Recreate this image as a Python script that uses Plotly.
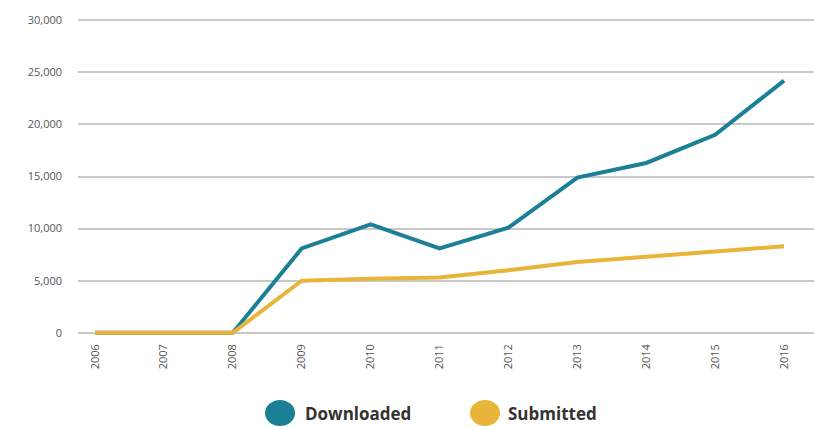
import plotly.graph_objects as go

years = [2006, 2007, 2008, 2009, 2010, 2011, 2012, 2013, 2014, 2015, 2016]
downloaded = [0, 0, 0, 8100, 10400, 8100, 10100, 14900, 16300, 19000, 24200]
submitted = [0, 0, 0, 5000, 5200, 5300, 6000, 6800, 7300, 7800, 8300]
y_ticks = [0, 5000, 10000, 15000, 20000, 25000, 30000]
y_labels = ["0", "5,000", "10,000", "15,000", "20,000", "25,000", "30,000"]
series_names = ["Downloaded", "Submitted"]
teal = "#1b7f96"
gold = "#e8b43a"

fig = go.Figure()
fig.add_trace(go.Scatter(x=years, y=downloaded, mode="lines", name=series_names[0],
                         line=dict(color=teal, width=4), showlegend=False))
fig.add_trace(go.Scatter(x=years, y=submitted, mode="lines", name=series_names[1],
                         line=dict(color=gold, width=4), showlegend=False))

# manual legend (large circles)
leg_y = -0.236
for xp, tx, col, name in [(0.2745, 0.3084, teal, series_names[0]),
                          (0.553, 0.5842, gold, series_names[1])]:
    fig.add_shape(type="circle", xref="paper", yref="paper", xsizemode="pixel", ysizemode="pixel",
                  xanchor=xp, yanchor=leg_y, x0=-15, x1=15, y0=-13, y1=13,
                  fillcolor=col, line=dict(width=0))
    fig.add_annotation(xref="paper", yref="paper", x=tx, y=leg_y, text="<b>%s</b>" % name,
                       showarrow=False, xanchor="left", yanchor="middle", xshift=-2, yshift=-1,
                       font=dict(family="Open Sans", size=17, color="#333333"))

fig.update_layout(
    width=814, height=427,
    margin=dict(l=78, r=0, t=15, b=90),
    paper_bgcolor="white", plot_bgcolor="white",
    font=dict(family="Open Sans", size=11, color="#555555"),
    xaxis=dict(range=[2005.753, 2016.435], tickmode="array", tickvals=years,
               ticktext=[str(y) for y in years], tickangle=-90, showgrid=False,
               zeroline=False, showline=False, ticks="", ticklabelstandoff=4,
               tickfont=dict(family="Open Sans", size=11, color="#555555")),
    yaxis=dict(range=[-400, 30500], tickmode="array", tickvals=y_ticks, ticktext=y_labels,
               showgrid=True, gridcolor="#c9c9c9", gridwidth=2, zeroline=False,
               showline=False, ticks="", ticklabelstandoff=15,
               tickfont=dict(family="Open Sans", size=11, color="#555555")),
)

fig.write_html("out.html", config={"displayModeBar": False},
               post_script="document.body.style.margin='0';document.body.style.overflow='hidden';")
